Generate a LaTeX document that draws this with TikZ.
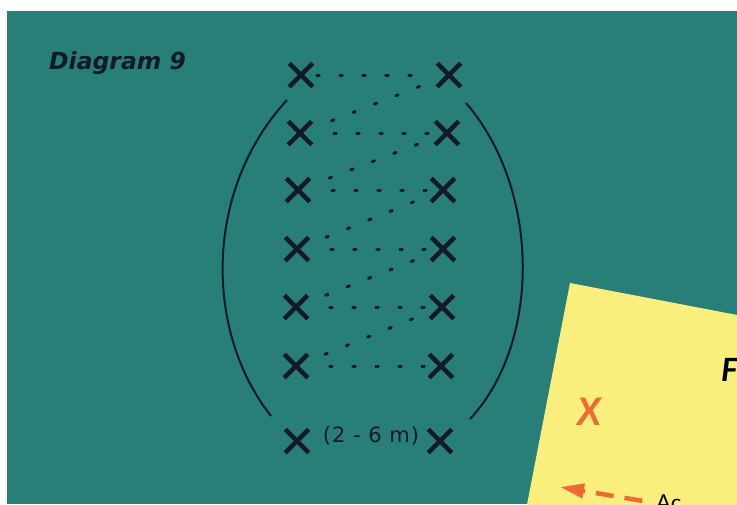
\documentclass[tikz,border=0pt]{standalone}
\usepackage{fontspec}
\setsansfont{Lato}
\newfontfamily\headfont{DejaVu Sans}
\newfontfamily\spanfont{DejaVu Sans}[LetterSpace=5]
\usetikzlibrary{shapes.misc,arrows.meta}
\definecolor{board}{RGB}{40,127,119}
\definecolor{ink}{RGB}{18,26,40}
\definecolor{paper}{RGB}{250,238,125}
\definecolor{cone}{RGB}{238,106,52}

\begin{document}
\begin{tikzpicture}[x=1pt,y=-1pt,
    player/.style={cross out,draw=ink,line width=4.5pt,minimum size=23.5pt,inner sep=0pt,outer sep=0pt},
    run/.style={draw=ink,line width=3pt,line cap=round,dash pattern=on 2.5pt off 20.5pt}]
  \useasboundingbox (0,0) rectangle (737,504);
  \clip (0,0) rectangle (737,504);
  \fill[white] (0,0) rectangle (737,504);
  \fill[board] (7,11) rectangle (737,504);
  \node[font=\headfont\bfseries\itshape\fontsize{23.5}{24}\selectfont,text=ink,anchor=west,inner sep=0pt] (title) at (49,63) {Diagram 9};
  % the two lines of players
  \foreach \i/\xl/\xr/\y in {1/301/449/75,2/300/447/133,3/298/443/190,4/297/443/249,5/296/442/307,6/296/441/366,7/297/440/441}{
    \node[player] (l\i) at (\xl,\y) {};
    \node[player] (r\i) at (\xr,\y) {};
  }
  \draw[run,shorten <=4pt,shorten >=19pt] (l1) -- (r1);
  \foreach \i in {2,...,6}
    \draw[run,shorten <=22pt,shorten >=5pt] (l\i) -- (r\i);
  \foreach \i [count=\j from 2] in {1,...,5}
    \draw[run,shorten <=19pt,shorten >=15pt] (r\i) -- (l\j);
  \draw[ink,line width=2pt] (287,100) .. controls (204,190) and (204,331) .. (271,416);
  \draw[ink,line width=2pt] (466,103) .. controls (541,190) and (541,343) .. (470,419);
  \node[font=\spanfont\fontsize{21}{21}\selectfont,text=ink,inner sep=0pt] (span) at (371,436) {(2 - 6 m)};
  % key card
  \fill[paper] (570,283) -- (800,327) -- (800,520) -- (524,520) -- cycle;
  \node[font=\sffamily\bfseries\itshape\fontsize{32}{32}\selectfont,anchor=west,inner sep=0pt] (key) at (721,370) {F};
  \node[font=\sffamily\bfseries\itshape\fontsize{38}{38}\selectfont,text=cone,inner sep=0pt] (mark) at (589,412) {X};
  \node[font=\sffamily\fontsize{22}{22}\selectfont,anchor=north west,inner sep=0pt] (ac) at (656,495) {Ac};
  \coordinate (tip) at (560,487);
  \draw[cone,line width=4.5pt,dash pattern=on 18pt off 11pt,shorten <=14pt,-{Triangle[length=24pt,width=14pt]}] (ac.west) -- (tip);
\end{tikzpicture}
\end{document}
